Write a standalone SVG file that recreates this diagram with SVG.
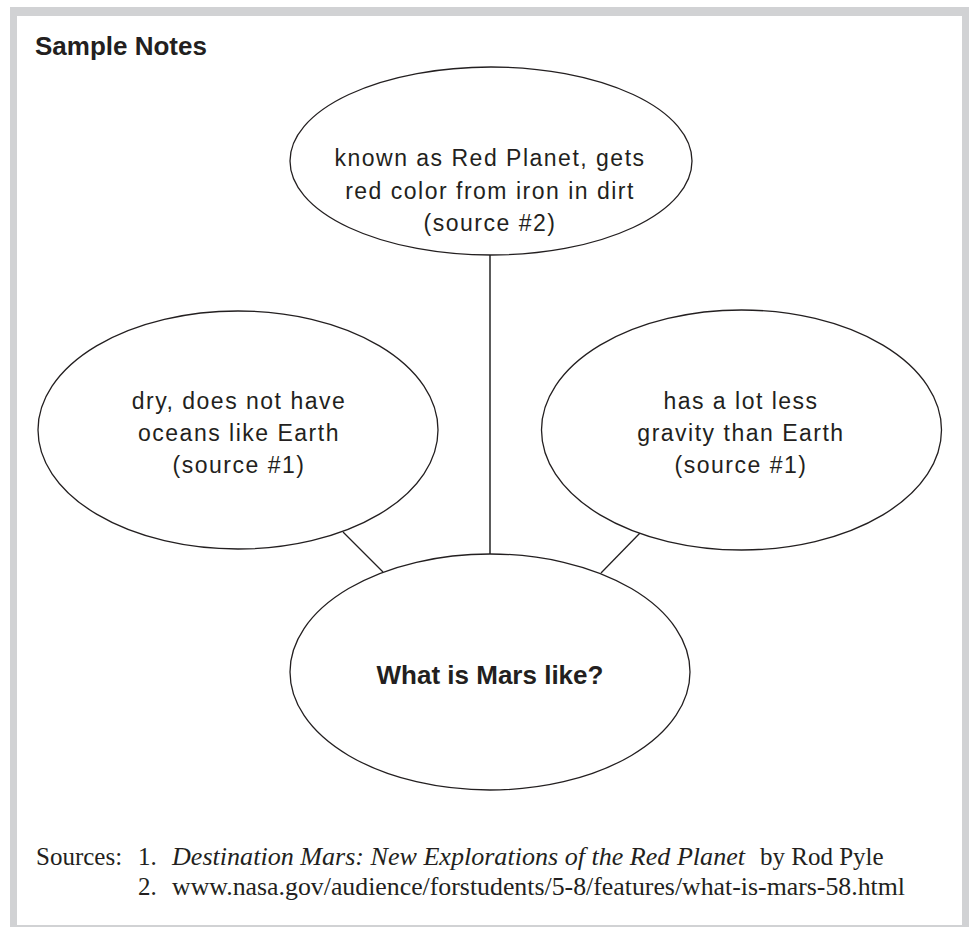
<svg xmlns="http://www.w3.org/2000/svg" width="969" height="927" viewBox="0 0 969 927">
<style>
.frame{fill:#d1d2d4}
.node{fill:#fff;stroke:#231f20;stroke-width:1.3}
.lbl{font-family:"Liberation Sans",Arial,sans-serif;font-size:23px;letter-spacing:1.5px;fill:#231f20;text-anchor:middle}
.bold{font-family:"Liberation Sans",Arial,sans-serif;font-size:26px;font-weight:bold;fill:#231f20}
.src{font-family:"Liberation Serif","Times New Roman",serif;font-size:25px;fill:#231f20}
.conn line{stroke:#231f20;stroke-width:1.3}
</style>
<rect width="969" height="927" fill="#fff"/>
<g id="frame">
<rect class="frame" x="10" y="7" width="959" height="9"/>
<rect class="frame" x="10" y="7" width="7" height="920"/>
<rect class="frame" x="962" y="7" width="7" height="920"/>
<rect class="frame" x="10" y="925" width="959" height="2"/>
</g>
<text class="bold" x="35" y="54.5">Sample Notes</text>
<g class="conn" id="connectors">
<line x1="490" y1="255" x2="490" y2="554" style="stroke:#4a4a4a;stroke-width:1.8"/>
<line x1="343" y1="532" x2="383" y2="572"/>
<line x1="640" y1="533" x2="601" y2="573"/>
</g>
<g id="node-top">
<ellipse class="node" cx="491" cy="161" rx="201" ry="94"/>
<text class="lbl" x="490" y="166">known as Red Planet, gets</text>
<text class="lbl" x="490" y="198.5">red color from iron in dirt</text>
<text class="lbl" x="490" y="231">(source #2)</text>
</g>
<g id="node-left">
<ellipse class="node" cx="238" cy="430" rx="200" ry="119"/>
<text class="lbl" x="239" y="409">dry, does not have</text>
<text class="lbl" x="239" y="441">oceans like Earth</text>
<text class="lbl" x="239" y="473">(source #1)</text>
</g>
<g id="node-right">
<ellipse class="node" cx="741.5" cy="430" rx="200" ry="120"/>
<text class="lbl" x="741" y="409">has a lot less</text>
<text class="lbl" x="741" y="441">gravity than Earth</text>
<text class="lbl" x="741" y="473">(source #1)</text>
</g>
<g id="node-center">
<ellipse class="node" cx="490" cy="672" rx="200" ry="118"/>
<text class="bold" x="490" y="684" text-anchor="middle">What is Mars like?</text>
</g>
<g id="sources">
<text class="src" x="36" y="865">Sources:</text>
<text class="src" x="138" y="865">1.</text>
<text class="src" x="172" y="865" font-style="italic" textLength="573" lengthAdjust="spacingAndGlyphs">Destination Mars: New Explorations of the Red Planet</text>
<text class="src" x="760" y="865">by Rod Pyle</text>
<text class="src" x="138" y="895">2.</text>
<text class="src" x="172" y="895" textLength="733" lengthAdjust="spacingAndGlyphs">www.nasa.gov/audience/forstudents/5-8/features/what-is-mars-58.html</text>
</g>
</svg>
